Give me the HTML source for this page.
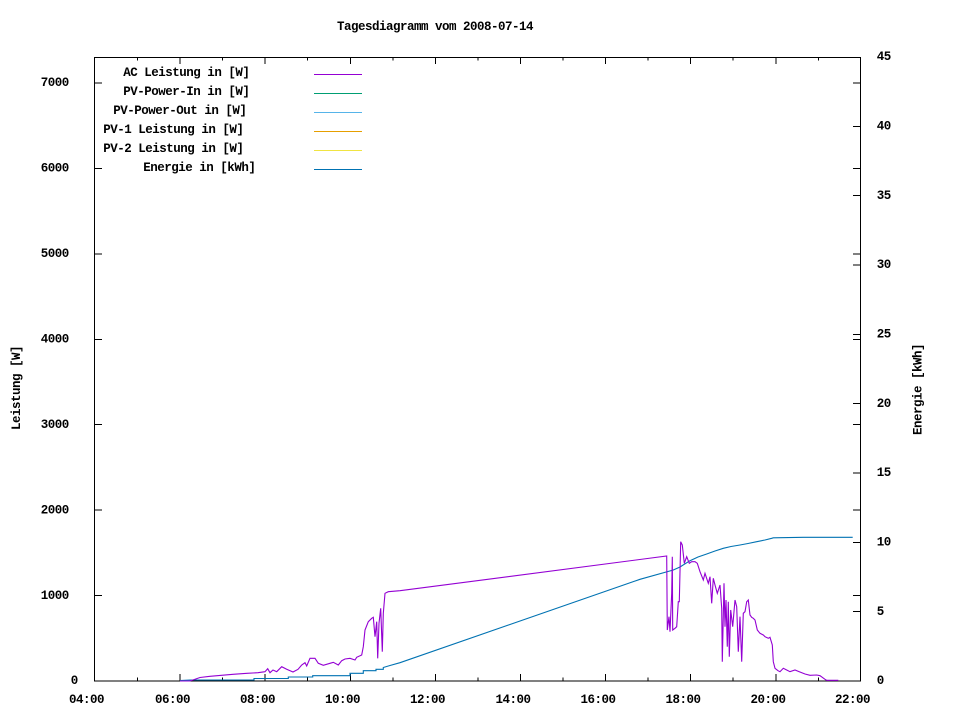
<!DOCTYPE html>
<html><head><meta charset="utf-8"><style>
html,body{margin:0;padding:0;background:#fff;}
svg{display:block;}
text{font-family:"Liberation Mono","DejaVu Sans Mono",monospace;font-weight:bold;font-size:12.5px;letter-spacing:-0.5px;fill:#000;}
</style></head><body>
<svg width="960" height="720" viewBox="0 0 960 720" xmlns="http://www.w3.org/2000/svg">
<rect x="0" y="0" width="960" height="720" fill="#fff"/>
<text x="337" y="30">Tagesdiagramm vom 2008-07-14</text>

<!-- frame -->
<g stroke="#000" stroke-width="1" fill="none" shape-rendering="crispEdges">
<rect x="94.5" y="57.5" width="766" height="623.5"/>
<!-- left y ticks (mirrored right) -->
<path d="M95 681h7M95 595.6h7M95 510.1h7M95 424.7h7M95 339.3h7M95 253.8h7M95 168.4h7M95 83h7"/>
<path d="M860 595.6h-7M860 510.1h-7M860 424.7h-7M860 339.3h-7M860 253.8h-7M860 168.4h-7M860 83h-7"/>
<!-- right y2 ticks -->
<path d="M860 611.7h-7M860 542.3h-7M860 473h-7M860 403.6h-7M860 334.3h-7M860 265h-7M860 195.6h-7M860 126.3h-7"/>
<!-- x ticks bottom major -->
<path d="M180.1 681v-7M265.2 681v-7M350.3 681v-7M435.4 681v-7M520.5 681v-7M605.6 681v-7M690.7 681v-7M775.8 681v-7"/>
<!-- x ticks bottom minor -->
<path d="M137.5 681v-3.5M222.6 681v-3.5M307.7 681v-3.5M392.8 681v-3.5M477.9 681v-3.5M563 681v-3.5M648.1 681v-3.5M733.2 681v-3.5M818.3 681v-3.5"/>
<!-- top -->
<path d="M180.1 57v7M265.2 57v7M350.3 57v7M435.4 57v7M520.5 57v7M605.6 57v7M690.7 57v7M775.8 57v7"/>
<path d="M137.5 57v3.5M222.6 57v3.5M307.7 57v3.5M392.8 57v3.5M477.9 57v3.5M563 57v3.5M648.1 57v3.5M733.2 57v3.5M818.3 57v3.5"/>
</g>

<!-- left labels -->
<text x="70.7" y="684">0</text>
<text x="40.7" y="599">1000</text>
<text x="40.7" y="513.5">2000</text>
<text x="40.7" y="428">3000</text>
<text x="40.7" y="342.5">4000</text>
<text x="40.7" y="257">5000</text>
<text x="40.7" y="171.5">6000</text>
<text x="40.7" y="86">7000</text>
<!-- right labels -->
<text x="876.7" y="684">0</text>
<text x="876.7" y="615">5</text>
<text x="876.7" y="545.5">10</text>
<text x="876.7" y="476">15</text>
<text x="876.7" y="407">20</text>
<text x="876.7" y="337.5">25</text>
<text x="876.7" y="268">30</text>
<text x="876.7" y="199">35</text>
<text x="876.7" y="129.5">40</text>
<text x="876.7" y="60">45</text>
<!-- x labels -->
<text x="69" y="703">04:00</text>
<text x="155" y="703">06:00</text>
<text x="240" y="703">08:00</text>
<text x="325" y="703">10:00</text>
<text x="410" y="703">12:00</text>
<text x="495.5" y="703">14:00</text>
<text x="580.5" y="703">16:00</text>
<text x="665.5" y="703">18:00</text>
<text x="750.5" y="703">20:00</text>
<text x="835" y="703">22:00</text>

<text transform="translate(20,430) rotate(-90)" x="0" y="0">Leistung [W]</text>
<text transform="translate(921.5,435) rotate(-90)" x="0" y="0">Energie [kWh]</text>

<!-- legend -->
<text x="123.3" y="76">AC Leistung in [W]</text>
<text x="123.3" y="95">PV-Power-In in [W]</text>
<text x="113.3" y="114">PV-Power-Out in [W]</text>
<text x="103.3" y="133">PV-1 Leistung in [W]</text>
<text x="103.3" y="152">PV-2 Leistung in [W]</text>
<text x="143.3" y="171">Energie in [kWh]</text>
<g stroke-width="1" shape-rendering="crispEdges">
<path d="M314 74.5h48" stroke="#9400d3"/>
<path d="M314 93.5h48" stroke="#009e73"/>
<path d="M314 112.5h48" stroke="#56b4e9"/>
<path d="M314 131.5h48" stroke="#e69f00"/>
<path d="M314 150.5h48" stroke="#f0e442"/>
<path d="M314 169.5h48" stroke="#0072b2"/>
</g>

<!-- energy -->
<polyline fill="none" stroke="#0072b2" stroke-width="1.1" points="180,680.5 190,680 254,680 254,678.5 288.3,678.5 288.3,677 312.7,677 312.7,675.7 350,675.7 350,673.3 363.3,673.3 363.3,670.7 376,670.7 376,669.3 383.3,669.3 383.3,667.5 390,665.5 400,662.7 640,579.3 673.3,570 680,567 690,560.7 698,557 706.7,554 715,551 723.3,548.3 731,546.5 740,545 748,543.5 756.7,541.7 765,540 771.7,538.3 773.3,537.8 803.3,537.3 852.7,537.3"/>

<!-- AC power -->
<polyline fill="none" stroke="#9400d3" stroke-width="1.1" stroke-linejoin="miter" points="180,681 190,681 200,677.5 210,676.3 233,674.3 247,673.3 258,672.7 265,671.7 267.7,668.7 270,672.7 273,670 276.7,671.7 281.7,666.7 286.7,669.3 293,672 298,669.3 301.7,665 305,662.7 306.7,666 310,658.3 315,658.3 318.3,663.3 323.3,665.3 330,663.3 333.3,662.3 338.3,665 341.7,660.7 345,659 350,658.3 355,660 356.7,657.3 361.7,655 363.3,646.7 365,630 368.3,621.7 371.7,618.3 373.3,617.3 375,636.7 376.7,621.7 377.7,658.3 379,623.3 380.7,608.3 382.3,651.7 383.3,613.3 385,593.3 388.3,591.7 400,590.7 666.7,556 667.3,630 669,616.7 670,631.7 671.7,593.3 672.3,556.7 672.7,630 675,628.3 676.7,626.7 678.3,601.7 679.3,601.7 680.7,541.7 682.3,545 684.3,563.3 686.7,556.7 689.3,563.3 691.7,561.7 695,561.7 697.3,563.3 700,571.7 703.3,580 705,573.3 708.3,583.3 710,576.7 711.7,603.3 713.3,578.3 715,585 717.3,593.3 720,585 721.7,608.3 722.3,661.7 724,583.3 725,626.7 726,600 727.3,646.7 728.3,601.7 729.3,656.7 730.7,610 732.7,626.7 735,600 736.7,606.7 738.3,651.7 740,616.7 741.7,661.7 743.3,613.3 745,611.7 746.7,601.7 748.3,600 750,615 751.7,617.3 753.3,618.3 755,620 757.3,630 760,633.3 763.3,635 765,636.7 768.3,638.3 770,637.3 772.3,645 773.3,661.7 775,668.3 778,670.7 780,671.7 783.3,668.3 786.7,670 790,671.7 795,670 799.3,671.7 805,674 810,675.3 816.7,675 820,675.7 825,679.3 826.7,680.3 838.3,680.3"/>
</svg>
</body></html>
